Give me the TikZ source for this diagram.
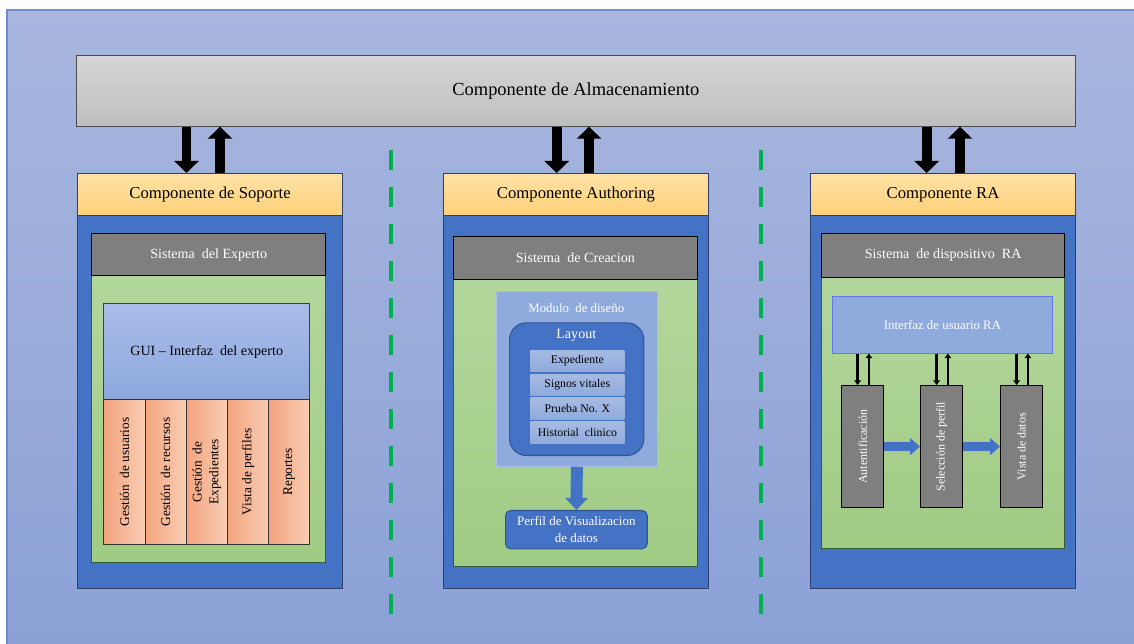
\documentclass[tikz,border=0pt]{standalone}
\usepackage{fontspec}
\setmainfont{Liberation Serif}
\usetikzlibrary{arrows.meta}
\definecolor{bgTop}{HTML}{A9B7DF}
\definecolor{bgBot}{HTML}{8BA1D6}
\definecolor{bgLine}{HTML}{6F8AC8}
\definecolor{storeTop}{HTML}{D6D6D6}
\definecolor{storeBot}{HTML}{BEBEBE}
\definecolor{headTop}{HTML}{FFE2A6}
\definecolor{headBot}{HTML}{FFD07A}
\definecolor{compBlue}{HTML}{4472C4}
\definecolor{compLine}{HTML}{2F3E6B}
\definecolor{barGray}{HTML}{7F7F7F}
\definecolor{panelTop}{HTML}{B2D79C}
\definecolor{panelBot}{HTML}{A0CB84}
\definecolor{panelLine}{HTML}{3B5A33}
\definecolor{guiTop}{HTML}{AABDE9}
\definecolor{guiBot}{HTML}{8CA7DD}
\definecolor{salmonL}{HTML}{F3A47F}
\definecolor{salmonR}{HTML}{F9CDB3}
\definecolor{lightBlue}{HTML}{8FAADC}
\definecolor{lightLine}{HTML}{A9BDE8}
\definecolor{darkBlue}{HTML}{2F5597}
\definecolor{dashGreen}{HTML}{00B050}
\def\px{0.02cm}
\begin{document}
\begin{tikzpicture}[x=0.02cm, y=-0.02cm,
	every node/.style={font=\fontsize{8}{9.5}\selectfont, inner sep=0pt, align=center},
	blk/.style 2 args={minimum width=#1*\px, minimum height=#2*\px, anchor=north west},
	graybar/.style={fill=barGray, draw=black, line width=0.8pt, text=white},
	panel/.style={top color=panelTop, bottom color=panelBot, draw=panelLine, line width=0.5pt},
	bigarrow/.style={line width=0.2cm, -{Triangle[width=0.48cm, length=0.24cm]}},
	smallarrow/.style={line width=0.045cm, -{Triangle[width=0.13cm, length=0.09cm]}},
	bluearrow/.style={compBlue, line width=0.19cm, -{Triangle[width=0.33cm, length=0.2cm]}}]
\useasboundingbox (0,0) rectangle (1134,644);
\fill[top color=bgTop, bottom color=bgBot] (7,10) rectangle (1134,644);
\draw[bgLine, line width=0.6pt] (7,644) -- (7,10) -- (1134,10);
\node[blk={999}{71}, top color=storeTop, bottom color=storeBot, draw=black!70, font=\fontsize{10.5}{12}\selectfont] (store) at (76,55) {Componente de Almacenamiento};
\foreach \nm/\x/\t in {sop/77/Componente de Soporte, aut/443/Componente Authoring, ra/810/Componente RA} {
	\node[blk={265}{415}, fill=compBlue, draw=compLine, line width=0.6pt] (\nm) at (\x,173) {};
	\node[blk={265}{42}, top color=headTop, bottom color=headBot, draw=compLine, line width=0.6pt, font=\fontsize{9.5}{11}\selectfont] (\nm Head) at (\x,173) {\t};
}
\foreach \nm/\d/\uu in {sop/186.5/220, aut/556.7/589, ra/926.7/960} {
	\coordinate (\nm Dn) at (\d,0);
	\coordinate (\nm Up) at (\uu,0);
	\draw[bigarrow] (store.south -| \nm Dn) -- (\nm Head.north -| \nm Dn);
	\draw[bigarrow] (\nm Head.north -| \nm Up) -- (store.south -| \nm Up);
}
\foreach \x in {391,761}
	\draw[dashGreen, line width=0.09cm, dash pattern=on 0.4cm off 0.34cm] (\x,150) -- (\x,617);
% soporte
\node[blk={234}{287}, panel] (sopPanel) at (91,275) {};
\node[blk={234}{42}, graybar] (sopSys) at (91,233) {Sistema\ \ del Experto};
\node[blk={206}{96}, top color=guiTop, bottom color=guiBot, draw=compLine, line width=0.5pt] (sopGui) at (103.3,303.3) {GUI -- Interfaz\ \ del experto};
\foreach \k/\t in {0/{Gesti\'on\ \ de usuarios}, 1/{Gesti\'on\ \ de recursos}, 2/{Gesti\'on\ \ de\\Expedientes}, 3/{Vista de perfiles}, 4/{Reportes}} {
	\node[blk={41.2}{144.3}, left color=salmonL, right color=salmonR, draw=black!80, line width=0.6pt] (sopCol\k) at (103.3+41.2*\k,399.3) {};
	\node[rotate=90, font=\fontsize{7.6}{9.5}\selectfont] (sopTxt\k) at (sopCol\k) {\t};
}
% authoring
\node[blk={244}{287.3}, panel] (autPanel) at (452.7,278.7) {};
\node[blk={244}{42.7}, graybar] (autSys) at (452.7,236) {Sistema\ \ de Creacion};
\node[blk={160.7}{175}, fill=lightBlue, draw=lightLine, line width=0.6pt] (autMod) at (496,290.7) {};
\node[text=white, font=\fontsize{7.3}{9}\selectfont] (autModTxt) at (576.3,308) {Modulo\ \ de dise\~no};
\node[blk={134.3}{132.7}, fill=compBlue, draw=darkBlue, line width=0.6pt, rounded corners=0.34cm] (autLay) at (509,322.3) {};
\node[text=white, font=\fontsize{8}{9.5}\selectfont] (autLayTxt) at (576.3,335.5) {Layout};
\foreach \k/\t in {0/Expediente, 1/Signos vitales, 2/Prueba No. X, 3/{Historial\ \ clinico}}
	\node[blk={94}{21.5}, top color=lightBlue!80!white, bottom color=lightBlue, font=\fontsize{6.7}{8}\selectfont] (autItem\k) at (530,350+23.8*\k) {\t};
\node[blk={141.7}{38.3}, fill=compBlue, draw=darkBlue, line width=0.6pt, rounded corners=0.1cm, text=white, font=\fontsize{7.4}{9.4}\selectfont] (autPerfil) at (505,510) {Perfil de Visualizacion\\de datos};
\draw[bigarrow, compBlue, line width=0.24cm, -{Triangle[width=0.44cm, length=0.24cm]}] (autMod.south) -- (autPerfil.north);
% RA
\node[blk={243}{271.3}, panel] (raPanel) at (821,276.7) {};
\node[blk={243}{43.7}, graybar] (raSys) at (821,233) {Sistema\ \ de dispositivo\ \ RA};
\node[blk={220}{56.7}, fill=lightBlue, draw=lightBlue!70!blue, line width=0.5pt, text=white, font=\fontsize{7.3}{9}\selectfont] (raGui) at (832,296) {Interfaz de usuario RA};
\foreach \k/\x/\t in {1/841/{Autentificaci\'on}, 2/920/{Selecci\'on de perfil}, 3/1000/{Vista de datos}} {
	\node[blk={42}{122}, graybar, line width=0.7pt] (raCol\k) at (\x,385) {};
	\node[rotate=90, text=white, font=\fontsize{6.8}{8}\selectfont] (raTxt\k) at (raCol\k) {\t};
	\draw[smallarrow] ([xshift=-0.1cm]raCol\k.north |- raGui.south) -- ([xshift=-0.1cm]raCol\k.north);
	\draw[smallarrow] ([xshift=0.126cm]raCol\k.north) -- ([xshift=0.126cm]raCol\k.north |- raGui.south);
}
\draw[bluearrow] (raCol1.east) -- (raCol2.west);
\draw[bluearrow] (raCol2.east) -- (raCol3.west);
\end{tikzpicture}
\end{document}
